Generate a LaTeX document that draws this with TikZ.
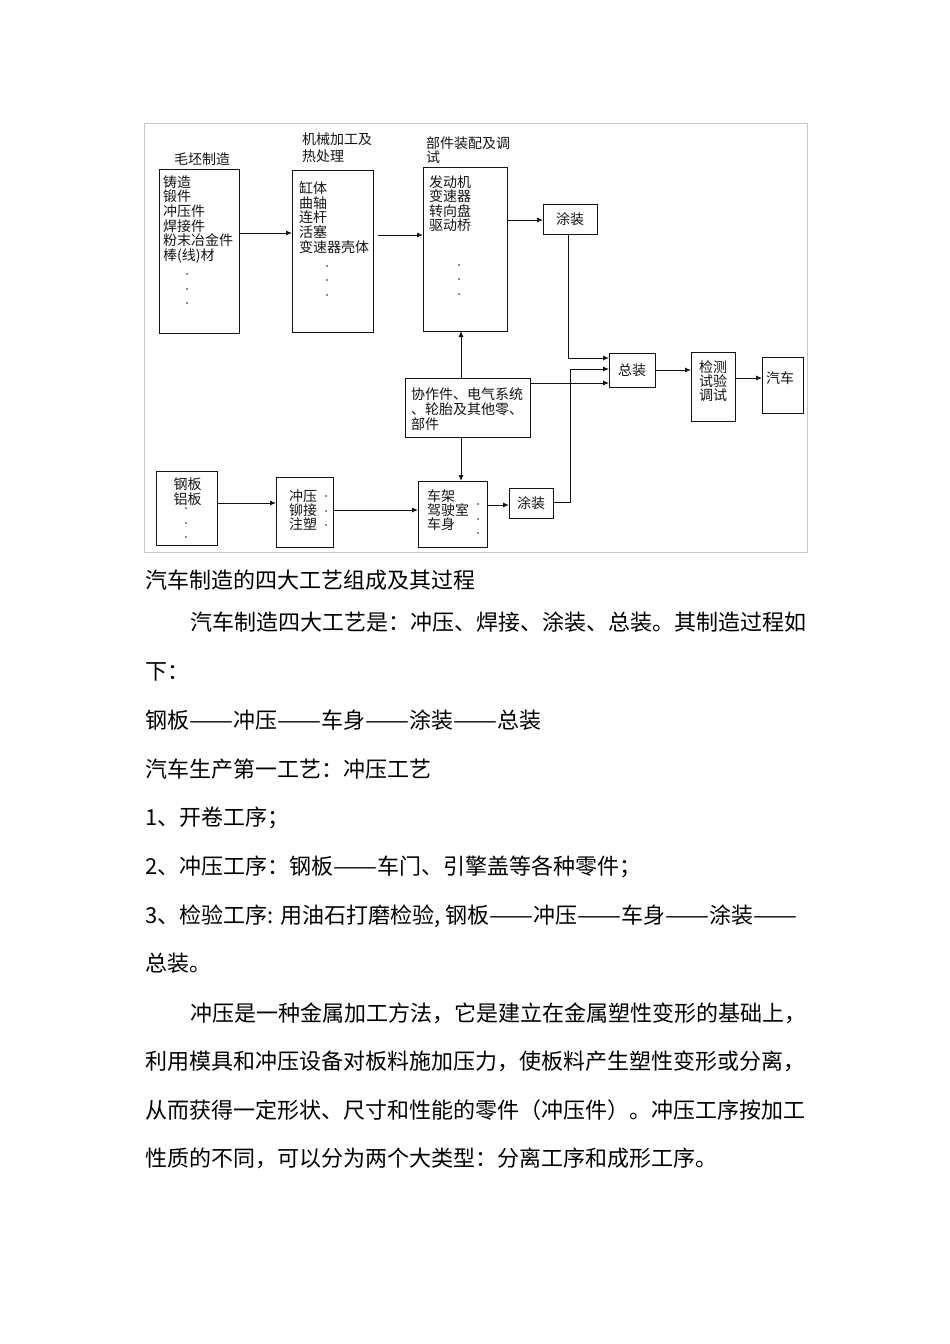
\documentclass[tikz,border=0pt]{standalone}
\usepackage{fontspec}
\usepackage{graphicx}
\setmainfont{Noto Sans CJK SC}
\usetikzlibrary{arrows.meta}
\definecolor{framegray}{RGB}{200,200,200}
\definecolor{ink}{RGB}{20,20,20}
\newcommand\ddsh{\resizebox{2em}{\height}{——}}
\begin{document}
\begin{tikzpicture}[x=1pt,y=-1pt,
  box/.style={draw=ink,line width=1pt,inner sep=0pt,outer sep=0pt},
  dt/.style={font=\fontsize{14}{14}\selectfont,inner sep=0pt,text=ink},
  bt/.style={font=\fontsize{22}{22}\selectfont,inner sep=0pt,anchor=base west,text=black},
  arr/.style={draw=ink,line width=0.9pt,-{Latex[length=6pt,width=5pt]}},
  ln/.style={draw=ink,line width=0.9pt},
  dotmark/.style={fill=ink}]
\fill[white] (0,0) rectangle (950,1344);
\useasboundingbox (0,0) rectangle (950,1344);
\draw[framegray,line width=1pt] (144,123) rectangle (807,552);

% boxes
\node[box,minimum width=80,minimum height=164] (B1) at (199,251) {};
\node[box,minimum width=81,minimum height=162] (B2) at (332.5,251) {};
\node[box,minimum width=84,minimum height=164] (B3) at (465,249) {};
\node[box,minimum width=54,minimum height=30,dt] (T1) at (570,219) {涂装};
\node[box,minimum width=46,minimum height=34,dt] (ZZ) at (632,370) {总装};
\node[box,minimum width=44,minimum height=69] (JC) at (713,386.5) {};
\node[box,minimum width=41,minimum height=56] (QC) at (782.5,385) {};
\node[box,minimum width=125,minimum height=59] (XZ) at (467.5,407.5) {};
\node[box,minimum width=61,minimum height=74] (GB) at (186.5,508) {};
\node[box,minimum width=57,minimum height=70] (CY) at (304.5,512) {};
\node[box,minimum width=69,minimum height=66] (CJ) at (452.5,514) {};
\node[box,minimum width=44,minimum height=30,dt] (T2) at (531,503) {涂装};

% headings above boxes
\node[dt] (L1) at (202,159) {毛坯制造};
\node[dt,anchor=base west] (L2a) at (302,144.3) {机械加工及};
\node[dt,anchor=base west] (L2b) at (302,161.3) {热处理};
\node[dt,anchor=base west] (L3a) at (426,148.3) {部件装配及调};
\node[dt,anchor=base west] (L3b) at (426,162.3) {试};

% box contents
\foreach \t [count=\i] in {铸造,锻件,冲压件,焊接件,粉末冶金件,棒(线)材}
  \node[dt,anchor=base west] (b1l\i) at (163,{187.3+14.6*(\i-1)}) {\t};
\foreach \yy in {274,289,303} \fill[dotmark] (187,\yy) circle[radius=0.9pt];

\foreach \t [count=\i] in {缸体,曲轴,连杆,活塞,变速器壳体}
  \node[dt,anchor=base west] (b2l\i) at (299,{193.3+14.8*(\i-1)}) {\t};
\foreach \yy in {266,280,295} \fill[dotmark] (327,\yy) circle[radius=0.9pt];

\foreach \t [count=\i] in {发动机,变速器,转向盘,驱动桥}
  \node[dt,anchor=base west] (b3l\i) at (429,{187.3+14.4*(\i-1)}) {\t};
\foreach \yy in {265,279,294} \fill[dotmark] (459,\yy) circle[radius=0.9pt];

\foreach \t [count=\i] in {检测,试验,调试}
  \node[dt,anchor=base] (jcl\i) at (713,{372.3+14*(\i-1)}) {\t};
\node[dt] (qct) at (780,378) {汽车};

\node[dt,anchor=base west] (xz1) at (411,399.3) {协作件、电气系统};
\node[dt,anchor=base west] (xz2) at (411,414.3) {、轮胎及其他零、};
\node[dt,anchor=base west] (xz3) at (411,429.3) {部件};

\node[dt,anchor=base] (gb1) at (187.5,489.3) {钢板};
\node[dt,anchor=base] (gb2) at (187.5,504.3) {铝板};
\foreach \yy in {508,523,537} \fill[dotmark] (186,\yy) circle[radius=0.9pt];

\foreach \t [count=\i] in {冲压,铆接,注塑}
  \node[dt,anchor=base west] (cyl\i) at (289,{501.3+14*(\i-1)}) {\t};
\foreach \yy in {496,511,525} \fill[dotmark] (326,\yy) circle[radius=0.9pt];

\foreach \t [count=\i] in {车架,驾驶室,车身}
  \node[dt,anchor=base west] (cjl\i) at (427,{501.3+14*(\i-1)}) {\t};
\foreach \yy in {504,519,533} \fill[dotmark] (478,\yy) circle[radius=0.9pt];

% connectors
\draw[arr] (B1.east |- 0,233) -- (B2.west |- 0,233);
\draw[arr,shorten <=5pt] (B2.east |- 0,235) -- (B3.west |- 0,235);
\draw[arr] (B3.east |- 0,220) -- (T1.west |- 0,220);
\draw[arr] (T1.south -| 568,0) |- (ZZ.west |- 0,358);
\draw[arr] (T2.east |- 0,502) -- (570,502) -- (570,369) -- (ZZ.west |- 0,369);
\draw[arr] (XZ.east |- 0,383) -- (ZZ.west |- 0,383);
\draw[arr] (XZ.north -| 461,0) -- (B3.south -| 461,0);
\draw[arr] (XZ.south -| 461,0) -- (CJ.north -| 461,0);
\draw[arr] (ZZ.east |- 0,370) -- (JC.west |- 0,370);
\draw[arr] (JC.east |- 0,378) -- (QC.west |- 0,378);
\draw[arr] (GB.east |- 0,503) -- (CY.west |- 0,503);
\draw[arr] (CY.east |- 0,510) -- (CJ.west |- 0,510);
\draw[arr] (CJ.east |- 0,505) -- (T2.west |- 0,505);

% body text
\node[bt] (p0) at (145,588.4) {汽车制造的四大工艺组成及其过程};
\node[bt] (p1) at (190,630.4) {汽车制造四大工艺是：冲压、焊接、涂装、总装。其制造过程如};
\node[bt] (p2) at (145,679.4) {下：};
\node[bt] (p3) at (145,728.4) {钢板\ddsh 冲压\ddsh 车身\ddsh 涂装\ddsh 总装};
\node[bt] (p4) at (145,777.4) {汽车生产第一工艺：冲压工艺};
\node[bt] (p5) at (145,825.4) {1、开卷工序；};
\node[bt] (p6) at (145,874.4) {2、冲压工序：钢板\ddsh 车门、引擎盖等各种零件；};
\node[bt] (p7) at (145,923.4) {3、检验工序: 用油石打磨检验, 钢板\ddsh 冲压\ddsh 车身\ddsh 涂装\ddsh};
\node[bt] (p8) at (145,971.4) {总装。};
\node[bt] (p9) at (190,1021.4) {冲压是一种金属加工方法，它是建立在金属塑性变形的基础上，};
\node[bt] (p10) at (145,1069.4) {利用模具和冲压设备对板料施加压力，使板料产生塑性变形或分离，};
\node[bt] (p11) at (145,1118.4) {从而获得一定形状、尺寸和性能的零件（冲压件）。冲压工序按加工};
\node[bt] (p12) at (145,1166.4) {性质的不同，可以分为两个大类型：分离工序和成形工序。};
\end{tikzpicture}
\end{document}
